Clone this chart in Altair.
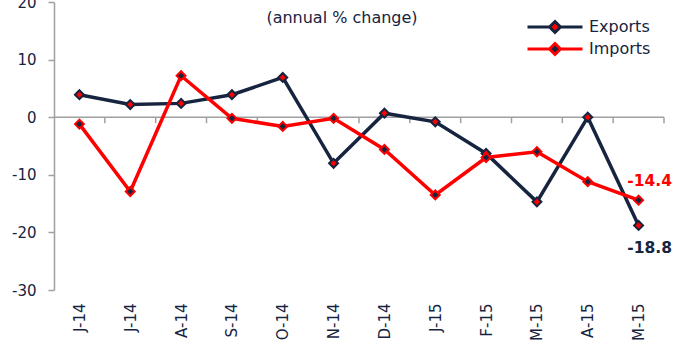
import altair as alt
import pandas as pd

# Monthly foreign trade, annual % change
months = ["J-14", "J-14", "A-14", "S-14", "O-14", "N-14",
          "D-14", "J-15", "F-15", "M-15", "A-15", "M-15"]
exports = [3.9, 2.2, 2.4, 3.9, 6.9, -8.0, 0.7, -0.8, -6.3, -14.7, 0.0, -18.8]
imports = [-1.2, -12.9, 7.2, -0.2, -1.6, -0.2, -5.6, -13.5, -7.0, -6.0, -11.2, -14.4]
series_names = ["Exports", "Imports"]
y_ticks = [-30, -20, -10, 0, 10, 20]
subtitle = "(annual % change)"

NAVY = "#16243F"
RED = "#FF0000"
GRAY = "#A0A0A0"
FONT = "DejaVu Sans"

rows = []
for i, m in enumerate(months):
    rows.append({"idx": i, "month": m, "series": "Exports", "value": exports[i]})
    rows.append({"idx": i, "month": m, "series": "Imports", "value": imports[i]})
df = pd.DataFrame(rows)
last = len(months) - 1

label_expr = "[" + ",".join(f"'{m}'" for m in months) + "][datum.value]"

x_enc = alt.X(
    "idx:Q",
    scale=alt.Scale(domain=[-0.5, len(months) - 0.5], nice=False, zero=False),
    axis=alt.Axis(values=list(range(len(months))), labelExpr=label_expr,
                  labelAngle=-90, domain=False, ticks=False, tickSize=0,
                  labelPadding=13, grid=False, title=None, labelFont=FONT,
                  labelFontSize=15, labelColor=NAVY),
)
y_enc = alt.Y(
    "value:Q",
    scale=alt.Scale(domain=[-30, 20], nice=False),
    axis=alt.Axis(values=y_ticks, grid=False, title=None, domainColor=GRAY,
                  domainWidth=1.5, tickColor=GRAY, tickWidth=1.5, tickSize=6,
                  labelPadding=12, labelFont=FONT, labelFontSize=15,
                  labelColor=NAVY),
)

legend_def = alt.Legend(
    title=None, orient="none", legendX=493, legendY=17,
    symbolType="M-5,0L-1.1,0M1.1,0L5,0M0,-1L1,0L0,1L-1,0Z",
    symbolSize=121, symbolStrokeWidth=3, labelOffset=26,
    labelFont=FONT, labelFontSize=16, labelColor=NAVY, rowPadding=-2,
)
stroke_enc = alt.Stroke("series:N", scale=alt.Scale(domain=series_names, range=[NAVY, RED]),
                        legend=legend_def)
fill_enc = alt.Fill("series:N", scale=alt.Scale(domain=series_names, range=[RED, NAVY]),
                    legend=legend_def)

base = alt.Chart(df)

zero_line = alt.Chart(pd.DataFrame({"z": [0]})).mark_rule(
    color=GRAY, strokeWidth=1.5).encode(y=alt.datum(0))

bounds = pd.DataFrame({"b": [i + 0.5 for i in range(len(months))]})
bound_ticks = alt.Chart(bounds).mark_rule(
    color=GRAY, strokeWidth=1.5, y2Offset=6).encode(
    x="b:Q", y=alt.datum(0), y2=alt.datum(0))

lines = base.mark_line(strokeWidth=3.5).encode(
    x=x_enc, y=y_enc, stroke=stroke_enc, order="idx:Q")

points = base.mark_point(shape="diamond", size=80, filled=True,
                         strokeWidth=2, opacity=1).encode(
    x="idx:Q", y="value:Q", stroke=stroke_enc, fill=fill_enc)

imp_label = base.transform_filter(
    f"datum.series == 'Imports' && datum.idx == {last}"
).mark_text(dx=11, dy=-19, font=FONT, fontSize=15.5, fontWeight="bold",
            color=RED).encode(
    x="idx:Q", y="value:Q", text=alt.Text("value:Q", format=".1f"))

exp_label = base.transform_filter(
    f"datum.series == 'Exports' && datum.idx == {last}"
).mark_text(dx=11, dy=23, font=FONT, fontSize=15.5, fontWeight="bold",
            color=NAVY).encode(
    x="idx:Q", y="value:Q", text=alt.Text("value:Q", format=".1f"))

sub = alt.Chart(pd.DataFrame({"t": [subtitle]})).mark_text(
    font=FONT, fontSize=16, color=NAVY).encode(
    x=alt.value(288), y=alt.value(16), text="t:N")

chart = alt.layer(
    zero_line, bound_ticks, lines, points, imp_label, exp_label, sub
).properties(
    width=610, height=288,
    autosize=alt.AutoSizeParams(type="none"),
    padding={"left": 54, "top": 2, "right": 9, "bottom": 55},
).configure_view(stroke=None)

chart.save("out.html", embed_options={
    "renderer": "svg", "actions": False,
    "formatLocale": {"decimal": ".", "thousands": ",", "grouping": [3],
                     "currency": ["$", ""], "minus": "-"},
})
